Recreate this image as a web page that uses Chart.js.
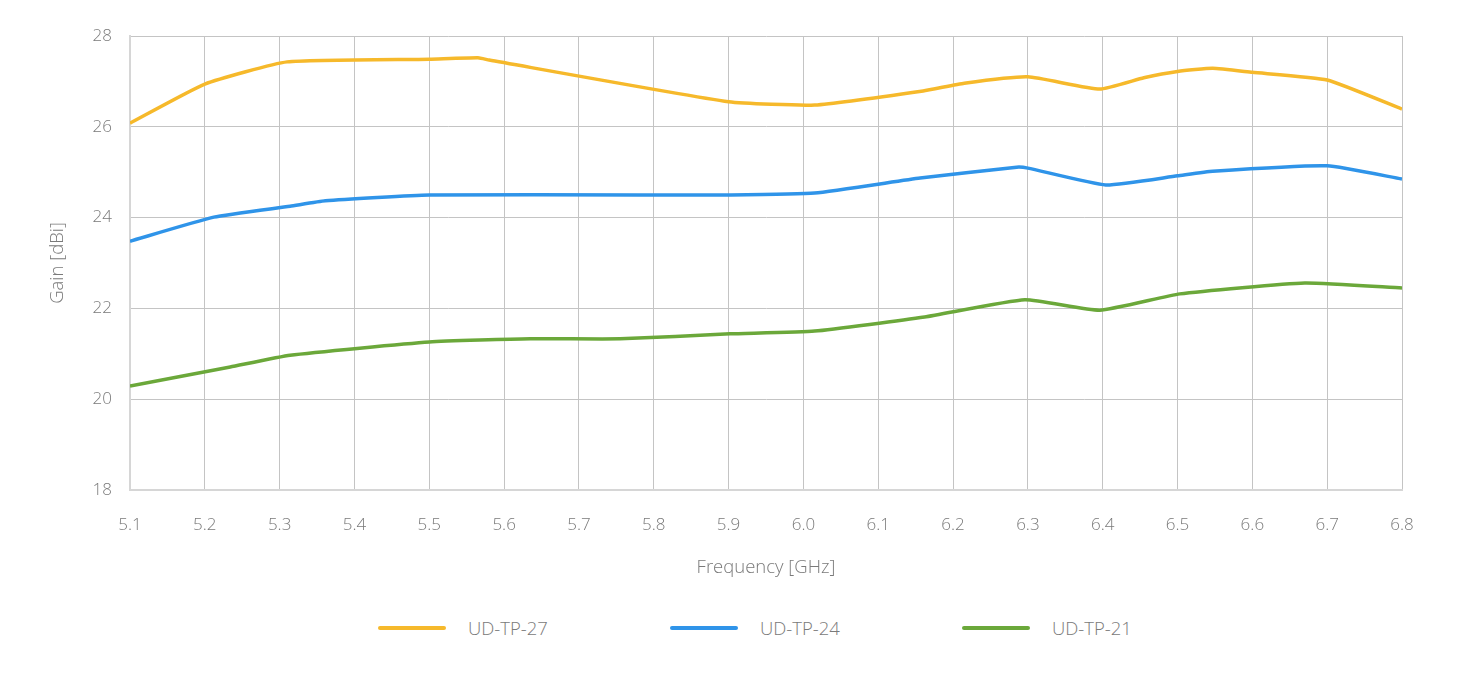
<!DOCTYPE html>
<html>
<head>
<meta charset="utf-8">
<script src="https://cdn.jsdelivr.net/npm/chart.js@4.4.1/dist/chart.umd.min.js"></script>
<style>
  html, body { margin: 0; padding: 0; background: #fff; }
  #wrap { width: 1462px; height: 600px; position: relative; }
  #legend { display: flex; justify-content: flex-start; margin-left: 378px; margin-top: 15px; font-family: "Open Sans", "Noto Sans", sans-serif; font-weight: 300; font-size: 18.5px; color: #7a7a7a; }
  .item { display: flex; align-items: center; width: 292px; }
  .swatch { width: 68px; height: 4px; border-radius: 2px; margin-right: 22px; }
</style>
</head>
<body>
<div id="wrap"><canvas id="myChart"></canvas></div>
<div id="legend"></div>
<script>
// frequency ticks on the x axis (GHz)
const freqTicks = [5.1, 5.2, 5.3, 5.4, 5.5, 5.6, 5.7, 5.8, 5.9, 6.0, 6.1, 6.2, 6.3, 6.4, 6.5, 6.6, 6.7, 6.8];
const gainTicks = [18, 20, 22, 24, 26, 28];

// UD-TP-27
const freq27 = [5.1, 5.2, 5.31, 5.5, 5.565, 5.58, 5.9, 6.015, 6.16, 6.215, 6.3, 6.396, 6.455, 6.5, 6.547, 6.6, 6.7, 6.8];
const gain27 = [26.08, 26.94, 27.43, 27.49, 27.52, 27.47, 26.55, 26.48, 26.79, 26.96, 27.10, 26.83, 27.08, 27.22, 27.29, 27.20, 27.03, 26.39];

// UD-TP-24
const freq24 = [5.1, 5.212, 5.314, 5.361, 5.5, 5.78, 5.9, 6.015, 6.156, 6.285, 6.3, 6.404, 6.5, 6.547, 6.7, 6.8];
const gain24 = [23.48, 24.01, 24.25, 24.37, 24.50, 24.50, 24.50, 24.54, 24.87, 25.11, 25.09, 24.72, 24.92, 25.02, 25.14, 24.85];

// UD-TP-21
const freq21 = [5.1, 5.234, 5.314, 5.5, 5.635, 5.755, 5.902, 6.015, 6.162, 6.296, 6.396, 6.503, 6.67, 6.8];
const gain21 = [20.29, 20.71, 20.97, 21.26, 21.33, 21.33, 21.44, 21.50, 21.81, 22.19, 21.96, 22.32, 22.56, 22.45];

const seriesNames = ['UD-TP-27', 'UD-TP-24', 'UD-TP-21'];
const seriesColors = ['#f6b92b', '#2f94e9', '#6ba83a'];

function toPoints(xs, ys) {
  return xs.map((x, i) => ({x: x, y: ys[i]}));
}

const fontFamily = '"Open Sans", "Noto Sans", sans-serif';
const gray = '#7a7a7a';

const myChart = new Chart(document.getElementById('myChart'), {
  type: 'line',
  data: {
    datasets: [
      {label: seriesNames[0], data: toPoints(freq27, gain27), borderColor: seriesColors[0]},
      {label: seriesNames[1], data: toPoints(freq24, gain24), borderColor: seriesColors[1]},
      {label: seriesNames[2], data: toPoints(freq21, gain21), borderColor: seriesColors[2]}
    ]
  },
  options: {
    responsive: true,
    maintainAspectRatio: false,
    animation: false,
    layout: {padding: {left: 0, right: 60, top: 36, bottom: 0}},
    elements: {
      line: {borderWidth: 3.5, tension: 0.15, fill: false},
      point: {radius: 0}
    },
    plugins: {legend: {display: false}, tooltip: {enabled: false}},
    scales: {
      x: {
        type: 'linear',
        min: 5.1,
        max: 6.8,
        afterBuildTicks: axis => { axis.ticks = freqTicks.map(v => ({value: v})); },
        afterFit: axis => { axis.height = 110; },
        grid: {color: '#c4c4c4', lineWidth: 1, drawTicks: false},
        border: {color: '#d6d6d6', width: 2},
        ticks: {
          padding: 25,
          color: gray,
          font: {family: fontFamily, size: 17, weight: 300},
          callback: v => v.toFixed(1)
        },
        title: {display: true, text: 'Frequency [GHz]', color: gray, font: {family: fontFamily, size: 18.5, weight: 300}, padding: {top: 0, bottom: 21}}
      },
      y: {
        min: 18,
        max: 28,
        afterBuildTicks: axis => { axis.ticks = gainTicks.map(v => ({value: v})); },
        afterFit: axis => { axis.width = 130; },
        grid: {color: '#c4c4c4', lineWidth: 1, drawTicks: false},
        border: {color: '#d6d6d6', width: 2},
        ticks: {
          padding: 18,
          color: gray,
          font: {family: fontFamily, size: 17, weight: 300}
        },
        title: {display: true, text: 'Gain [dBi]', color: gray, font: {family: fontFamily, size: 18.5, weight: 300}, padding: {top: 47, bottom: 0}}
      }
    }
  }
});

// legend under the chart
const legend = document.getElementById('legend');
seriesNames.forEach((name, i) => {
  const item = document.createElement('div');
  item.className = 'item';
  item.innerHTML = '<span class="swatch" style="background:' + seriesColors[i] + '"></span>' + name;
  legend.appendChild(item);
});
</script>
</body>
</html>
